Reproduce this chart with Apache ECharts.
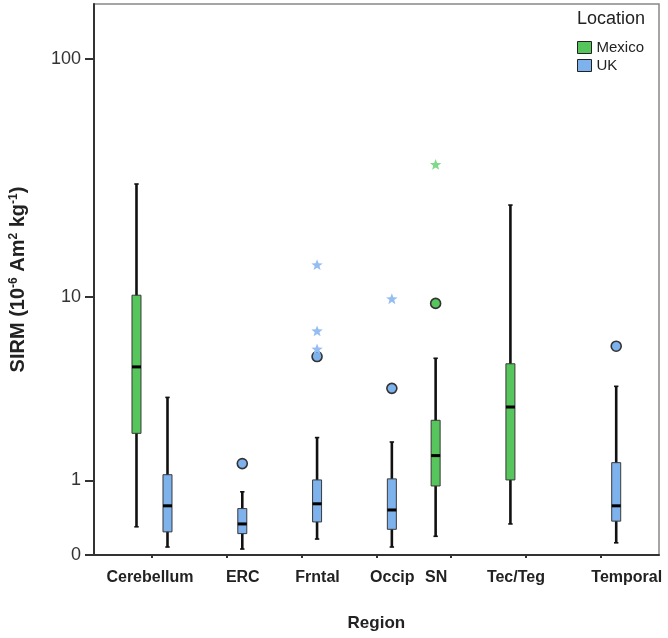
<!DOCTYPE html>
<html><head><meta charset="utf-8">
<script src="https://cdn.jsdelivr.net/npm/echarts@6/dist/echarts.min.js"></script>
<style>html,body{margin:0;padding:0;background:#fff}#c{width:668px;height:638px}</style>
</head><body><div id="c"></div>
<script>
// ---- data ----
const regions = ['Cerebellum','ERC','Frntal','Occip','SN','Tec/Teg','Temporal'];
// [min, Q1, median, Q3, max] per region; null = no data for that location
const mexicoBoxes = [[0.30,2.10,4.75,10.2,30.5], null, null, null, [0.19,0.90,1.52,2.50,5.23], [0.335,1.01,2.96,4.92,24.9], null];
const ukBoxes = [[0.077,0.24,0.58,1.11,3.33], [0.057,0.22,0.335,0.54,0.80], [0.16,0.36,0.61,1.01,1.98], [0.077,0.27,0.52,1.03,1.86], null, null, [0.12,0.37,0.58,1.36,3.80]];
const mexicoOutliers = [['SN',9.38]];
const mexicoExtremes = [['SN',36.6]];
const ukOutliers = [['ERC',1.34],['Frntal',5.33],['Occip',3.71],['Temporal',5.97]];
const ukExtremes = [['Frntal',13.8],['Frntal',7.0],['Frntal',5.76],['Occip',9.78]];
const yTickLabels = [0,1,10,100];
const yTop = 167; // axis top value

// ---- styling ----
const GREEN = '#55c55c', BLUE = '#7db2ec';
const GREEN_STAR = '#80d98a', BLUE_STAR = '#94bdf2';
const FONT = '"Liberation Sans", Arial, sans-serif';
const labelShift = [-2, 16, 16, 16, -15, -10, 26];
const OFF = 0.2073; // fraction of band between group centre and box

const t = v => Math.log10(v + 1);
const inv = u => Math.round(Math.pow(10, u) - 1);

function boxData(arr){ return arr.map((b,i)=> b ? [i].concat(b.map(t)) : null).filter(Boolean); }
function ptData(arr){ return arr.map(p=>[regions.indexOf(p[0]), t(p[1])]); }

function boxRenderer(sign, fill){
  return function(params, api){
    const c = api.value(0);
    const band = api.size([1,0])[0];
    const x = api.coord([c,0])[0] + sign*band*OFF;
    const y = i => api.coord([c, api.value(i)])[1];
    const yMin=y(1), yQ1=y(2), yMed=y(3), yQ3=y(4), yMax=y(5);
    const hw = 4.5, cap = 2.2;
    return {type:'group', children:[
      {type:'line', shape:{x1:x,y1:yMin,x2:x,y2:yMax}, style:{stroke:'#111', lineWidth:2.6}},
      {type:'line', shape:{x1:x-cap,y1:yMin,x2:x+cap,y2:yMin}, style:{stroke:'#111', lineWidth:1.6}},
      {type:'line', shape:{x1:x-cap,y1:yMax,x2:x+cap,y2:yMax}, style:{stroke:'#111', lineWidth:1.6}},
      {type:'rect', shape:{x:x-hw,y:yQ3,width:2*hw,height:yQ1-yQ3}, style:{fill:fill, stroke:'#3a3a3a', lineWidth:1}},
      {type:'line', shape:{x1:x-hw,y1:yMed,x2:x+hw,y2:yMed}, style:{stroke:'#000', lineWidth:3}}
    ]};
  };
}
function circleRenderer(sign, fill){
  return function(params, api){
    const c = api.value(0);
    const band = api.size([1,0])[0];
    const p = api.coord([c, api.value(1)]);
    return {type:'circle', shape:{cx:p[0]+sign*band*OFF, cy:p[1], r:5}, style:{fill:fill, stroke:'#333', lineWidth:1.6}};
  };
}
function starRenderer(sign, fill){
  return function(params, api){
    const c = api.value(0);
    const band = api.size([1,0])[0];
    const p = api.coord([c, api.value(1)]);
    const cx = p[0]+sign*band*OFF, cy = p[1];
    const pts = [];
    for (let k=0;k<10;k++){
      const r = k%2===0 ? 6 : 2.5;
      const a = -Math.PI/2 + k*Math.PI/5;
      pts.push([cx + r*Math.cos(a), cy + r*Math.sin(a)]);
    }
    return {type:'polygon', shape:{points:pts}, style:{fill:fill}};
  };
}

const rich = {};
labelShift.forEach((s,i)=>{
  rich['s'+i] = {fontFamily:FONT, fontWeight:'bold', fontSize:16, color:'#222',
    padding: s>=0 ? [0,0,0,2*s] : [0,-2*s,0,0]};
});

const chart = echarts.init(document.getElementById('c'), null, {renderer:'canvas'});
const common = {type:'custom', xAxisIndex:1, yAxisIndex:1, clip:false};
chart.setOption({
  animation:false,
  backgroundColor:'#fff',
  textStyle:{fontFamily:FONT},
  title:{text:'Location', left:572, top:5, textStyle:{fontFamily:FONT, fontSize:18, fontWeight:'normal', color:'#222'}},
  legend:{data:['Mexico','UK'], orient:'vertical', left:572, top:35, icon:'rect', itemWidth:14, itemHeight:12, itemGap:3,
    itemStyle:{borderColor:'#222', borderWidth:1},
    textStyle:{fontFamily:FONT, fontSize:15, color:'#222'}},
  grid:[
    {left:93, right:9, top:4, bottom:83, show:true, borderColor:'#888', borderWidth:1.5, backgroundColor:'transparent'},
    {left:114.6, right:29.9, top:4, bottom:83}
  ],
  xAxis:[
    {gridIndex:0, type:'value', min:0, max:1, axisLine:{show:true, onZero:false, lineStyle:{color:'#333', width:2}}, axisTick:{show:false}, axisLabel:{show:false}, splitLine:{show:false}},
    {gridIndex:1, type:'category', data:regions, axisLine:{show:false},
      axisTick:{show:true, alignWithLabel:true, length:3, lineStyle:{color:'#333', width:2}},
      axisLabel:{interval:0, margin:15, formatter:(v,i)=>'{s'+i+'|'+v+'}', rich:rich},
      name:'Region', nameLocation:'middle', nameGap:60,
      nameTextStyle:{fontFamily:FONT, fontWeight:'bold', fontSize:17, color:'#222'}}
  ],
  yAxis:[
    {gridIndex:0, type:'value', min:0, max:t(yTop),
      axisLine:{show:true, lineStyle:{color:'#333', width:2}},
      axisTick:{show:true, length:9, customValues:yTickLabels.map(t), lineStyle:{color:'#333', width:2}},
      axisLabel:{customValues:yTickLabels.map(t), formatter:v=>String(inv(v)), margin:13, fontSize:18, color:'#333', fontFamily:FONT},
      splitLine:{show:false},
      name:'SIRM (10{sup|-6} Am{sup|2} kg{sup|-1})', nameLocation:'middle', nameGap:66, nameRotate:90,
      nameTextStyle:{fontFamily:FONT, fontWeight:'bold', fontSize:20, color:'#222',
        rich:{sup:{fontFamily:FONT, fontWeight:'bold', fontSize:12, color:'#222', verticalAlign:'top', lineHeight:20}}}},
    {gridIndex:1, type:'value', min:0, max:t(yTop), show:false}
  ],
  series:[
    Object.assign({}, common, {name:'Mexico', itemStyle:{color:GREEN}, renderItem:boxRenderer(-1, GREEN), encode:{x:0, y:[1,2,3,4,5]}, data:boxData(mexicoBoxes)}),
    Object.assign({}, common, {name:'UK', itemStyle:{color:BLUE}, renderItem:boxRenderer(1, BLUE), encode:{x:0, y:[1,2,3,4,5]}, data:boxData(ukBoxes)}),
    Object.assign({}, common, {name:'Mexico outliers', renderItem:circleRenderer(-1, GREEN), encode:{x:0, y:1}, data:ptData(mexicoOutliers)}),
    Object.assign({}, common, {name:'UK outliers', renderItem:circleRenderer(1, BLUE), encode:{x:0, y:1}, data:ptData(ukOutliers)}),
    Object.assign({}, common, {name:'Mexico extremes', renderItem:starRenderer(-1, GREEN_STAR), encode:{x:0, y:1}, data:ptData(mexicoExtremes)}),
    Object.assign({}, common, {name:'UK extremes', renderItem:starRenderer(1, BLUE_STAR), encode:{x:0, y:1}, data:ptData(ukExtremes)})
  ]
});
</script></body></html>
